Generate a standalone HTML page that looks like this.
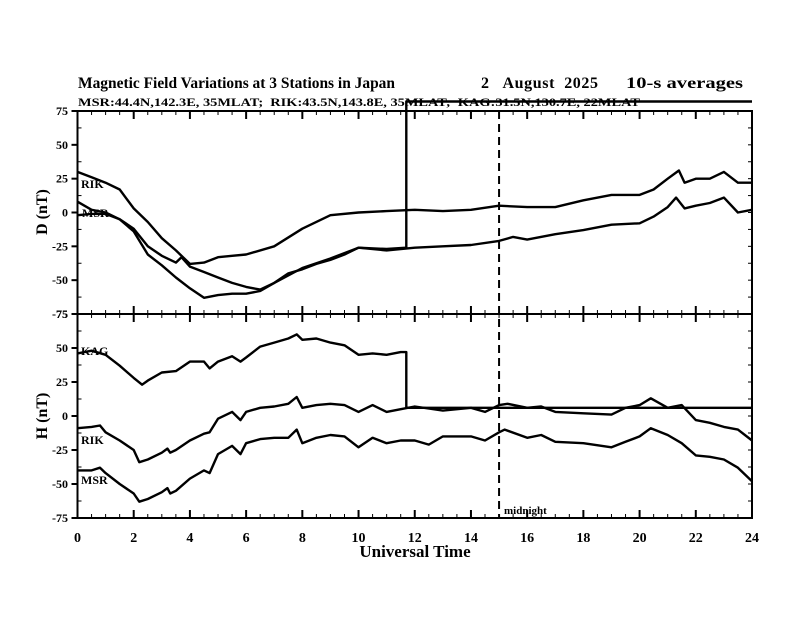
<!DOCTYPE html>
<html><head><meta charset="utf-8"><style>
body{margin:0;background:#fff;}
svg text{font-family:"Liberation Serif",serif;fill:#000;}
</style></head><body>
<svg id="chart" width="792" height="612" viewBox="0 0 792 612" xmlns="http://www.w3.org/2000/svg">
<rect width="792" height="612" fill="#fff"/>
<text x="78" y="88" font-size="16" font-weight="bold" textLength="317" lengthAdjust="spacingAndGlyphs">Magnetic Field Variations at 3 Stations in Japan</text>
<text x="481" y="88" font-size="16" font-weight="bold" textLength="117" lengthAdjust="spacing" xml:space="preserve">2   August  2025</text>
<text x="626" y="88" font-size="16" font-weight="bold" textLength="117" lengthAdjust="spacingAndGlyphs">10-s averages</text>
<text x="78" y="106" font-size="12" font-weight="bold" textLength="562" lengthAdjust="spacingAndGlyphs" xml:space="preserve">MSR:44.4N,142.3E, 35MLAT;  RIK:43.5N,143.8E, 35MLAT;  KAG:31.5N,130.7E, 22MLAT</text>
<g id="axes"></g>
<g id="series" fill="none" stroke="#000" stroke-width="2.4" stroke-linejoin="round"></g>
<text x="81" y="188" font-size="12" font-weight="bold">RIK</text>
<text x="82" y="217" font-size="12" font-weight="bold">MSR</text>
<text x="81" y="355" font-size="12" font-weight="bold">KAG</text>
<text x="81" y="444" font-size="12" font-weight="bold">RIK</text>
<text x="81" y="484" font-size="12" font-weight="bold">MSR</text>
<text x="504" y="514" font-size="11" font-weight="bold">midnight</text>
<text x="415" y="557" font-size="17" font-weight="bold" text-anchor="middle">Universal Time</text>
<text transform="translate(47,212) rotate(-90)" font-size="16" font-weight="bold" text-anchor="middle">D (nT)</text>
<text transform="translate(47,416) rotate(-90)" font-size="16" font-weight="bold" text-anchor="middle">H (nT)</text>
</svg>
<script>
const xTicks=[0,2,4,6,8,10,12,14,16,18,20,22,24];
const yTicks=[75,50,25,0,-25,-50,-75];
const midnightHour=15;
const dRikT=[0,0.5,1,1.5,2,2.5,3,3.5,4,4.5,5,5.5,6,7,8,9,10,11,12,13,14,15,16,17,18,19,20,20.5,21,21.4,21.6,22,22.5,23,23.5,24];
const dRikV=[30,26,22,17,3,-7,-19,-28,-38,-37,-33,-32,-31,-25,-12,-2,0,1,2,1,2,5,4,4,9,13,13,17,25,31,22,25,25,30,22,22];
const dMsrT=[0,0.5,1,1.5,2,2.5,3,3.5,4,4.5,5,5.5,6,6.5,7,7.5,8,8.5,9,9.5,10,11,12,13,14,15,15.5,16,17,18,19,20,20.5,21,21.3,21.6,22,22.5,23,23.5,24];
const dMsrV=[-2,-1,-1,-5,-14,-31,-39,-48,-56,-63,-61,-60,-60,-58,-52,-45,-42,-38,-35,-31,-26,-28,-26,-25,-24,-21,-18,-20,-16,-13,-9,-8,-3,4,11,3,5,7,11,0,2];
const dKagT=[0,0.5,1,1.5,2,2.5,3,3.5,3.7,4,4.5,5,5.5,6,6.5,7,8,9,10,11,11.7,11.7,24];
const dKagV=[8,2,0,-5,-12,-25,-32,-37,-33,-40,-44,-48,-52,-55,-57,-52,-41,-34,-26,-27,-26,82,82];
const hKagT=[0,0.5,1,1.5,2,2.3,2.5,3,3.5,4,4.5,4.7,5,5.5,5.8,6,6.5,7,7.5,7.8,8,8.5,9,9.5,10,10.5,11,11.5,11.7,11.7,24];
const hKagV=[46,48,45,37,28,23,26,32,33,40,40,35,40,44,40,43,51,54,57,60,56,57,54,52,45,46,45,47,47,6,6];
const hRikT=[0,0.5,0.8,1,1.5,2,2.2,2.5,3,3.2,3.3,3.5,4,4.5,4.7,5,5.5,5.8,6,6.5,7,7.5,7.8,8,8.5,9,9.5,10,10.5,11,11.5,12,13,14,14.5,15,15.3,16,16.5,17,18,19,19.5,20,20.4,21,21.5,22,22.5,23,23.5,24];
const hRikV=[-9,-8,-7,-12,-18,-25,-34,-32,-27,-24,-27,-25,-18,-13,-12,-2,3,-3,3,6,7,9,14,6,8,9,8,3,8,3,5,7,4,6,3,8,9,6,7,3,2,1,6,8,13,6,8,-3,-5,-8,-10,-18];
const hMsrT=[0,0.5,0.8,1,1.5,2,2.2,2.5,3,3.2,3.3,3.5,4,4.5,4.7,5,5.5,5.8,6,6.5,7,7.5,7.8,8,8.5,9,9.5,10,10.5,11,11.5,12,12.5,13,14,14.5,15,15.2,16,16.5,17,18,19,19.5,20,20.4,21,21.5,22,22.5,23,23.5,24];
const hMsrV=[-40,-40,-38,-42,-50,-57,-63,-61,-56,-53,-57,-55,-46,-40,-42,-28,-22,-28,-20,-17,-16,-16,-10,-20,-16,-14,-15,-23,-16,-20,-18,-18,-21,-15,-15,-18,-12,-10,-16,-14,-19,-20,-23,-19,-15,-9,-14,-20,-29,-30,-32,-38,-48];

const X0=77.5,X1=752,TOP=[111,314],BOT=[314,518];
const xs=h=>X0+(X1-X0)*h/24;
const yD=v=>TOP[0]+(TOP[1]-TOP[0])*(75-v)/150;
const yH=v=>BOT[0]+(BOT[1]-BOT[0])*(75-v)/150;
const NS="http://www.w3.org/2000/svg";
const axes=document.getElementById('axes'), series=document.getElementById('series');
function mk(tag,attrs,parent){const e=document.createElementNS(NS,tag);for(const k in attrs)e.setAttribute(k,attrs[k]);parent.appendChild(e);return e;}
function line(x1,y1,x2,y2,w){return mk('line',{x1,y1,x2,y2,stroke:'#000','stroke-width':w||1},axes);}

const frameTop=mk('rect',{x:X0,y:TOP[0],width:X1-X0,height:TOP[1]-TOP[0],fill:'none',stroke:'#000','stroke-width':2},axes);


const frameBot=mk('rect',{x:X0,y:BOT[0],width:X1-X0,height:BOT[1]-BOT[0],fill:'none',stroke:'#000','stroke-width':2},axes);



for(let h=0;h<=24;h+=0.5){
  const x=xs(h), major=(h%2===0), len=major?8:4;
  [TOP[0],BOT[0]].forEach(y=>line(x,y,x,y+len,major?2:1));
  [TOP[1],BOT[1]].forEach(y=>line(x,y,x,y-len,major?2:1));
}
xTicks.forEach(h=>{
  const t=mk('text',{x:xs(h),y:542,'font-size':14,'font-weight':'bold','text-anchor':'middle'},document.getElementById('chart'));
  
  
  t.textContent=h;
});
[[yD,'d'],[yH,'h']].forEach(([f,p])=>{
  for(let v=-75;v<=75;v+=12.5){
    const y=f(v);
    if(v%25===0){line(X0-6,y,X0,y,2);}else{line(X0,y,X0+4,y,1);}
    line(X1,y,X1-4,y,1);
  }
  yTicks.forEach(v=>{
    const t=mk('text',{x:68,y:f(v)+4,'font-size':12,'font-weight':'bold','text-anchor':'end'},document.getElementById('chart'));
    
    
    t.textContent=v;
  });
});
const mid=mk('line',{x1:xs(midnightHour),y1:TOP[0],x2:xs(midnightHour),y2:BOT[1],stroke:'#000','stroke-width':2,'stroke-dasharray':'8,5'},axes);



function trace(T,V,f,name){
  const d=T.map((t,i)=>(i?'L':'M')+xs(t).toFixed(1)+','+f(V[i]).toFixed(1)).join('');
  const p=mk('path',{d},series);
  
  
}
trace(dRikT,dRikV,yD,'d-rik-line');
trace(dMsrT,dMsrV,yD,'d-msr-line');
trace(dKagT,dKagV,yD,'d-kag-line');
trace(hKagT,hKagV,yH,'h-kag-line');
trace(hRikT,hRikV,yH,'h-rik-line');
trace(hMsrT,hMsrV,yH,'h-msr-line');
</script>
</body></html>
